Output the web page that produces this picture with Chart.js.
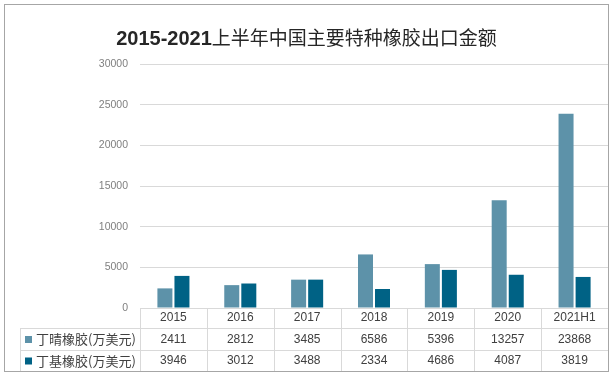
<!DOCTYPE html>
<html>
<head>
<meta charset="utf-8">
<script src="https://cdn.jsdelivr.net/npm/chart.js@4"></script>
<style>
  html, body { margin: 0; padding: 0; background: #fff; }
  #wrap { width: 613px; height: 376px; }
</style>
</head>
<body>
<div id="wrap"><canvas id="myChart"></canvas></div>
<script>
const years = ['2015', '2016', '2017', '2018', '2019', '2020', '2021H1'];
const nbrValues = [2411, 2812, 3485, 6586, 5396, 13257, 23868];
const brValues = [3946, 3012, 3488, 2334, 4686, 4087, 3819];
const seriesNames = ['丁晴橡胶(万美元)', '丁基橡胶(万美元)'];
const seriesColors = ['#5d92a9', '#006285'];

const cjk = '"Liberation Sans", "Noto Sans CJK SC", sans-serif';

// title, outer frame and the data table under the plot
const tablePlugin = {
    id: 'tablePlugin',
    beforeDraw(chart) {
        const c = chart.ctx;
        c.save();
        c.fillStyle = '#fff';
        c.fillRect(0, 0, chart.width, chart.height);
        c.restore();
    },
    afterDraw(chart) {
        const c = chart.ctx;
        const x = chart.scales.x;
        const area = chart.chartArea;
        const step = (area.right - area.left) / years.length;
        const rowTop = area.bottom;
        const rows = [rowTop, 328.5, 350.5, 371];

        c.save();
        // title
        c.fillStyle = '#262626';
        c.textBaseline = 'middle';
        const t1 = '2015-2021';
        const t2 = '上半年中国主要特种橡胶出口金额';
        c.font = 'bold 20px ' + cjk;
        const w1 = c.measureText(t1).width;
        c.font = '19px "Noto Sans CJK SC", sans-serif';
        const w2 = c.measureText(t2).width;
        let tx = chart.width / 2 - (w1 + w2) / 2;
        c.font = 'bold 20px ' + cjk;
        c.textAlign = 'left';
        c.fillText(t1, tx, 39);
        c.font = '19px "Noto Sans CJK SC", sans-serif';
        c.fillText(t2, tx + w1, 38);

        // table lines
        c.strokeStyle = '#d9d9d9';
        c.lineWidth = 1;
        c.beginPath();
        for (let i = 0; i <= years.length; i++) {
            const lx = Math.round(area.left + i * step) + 0.5;
            c.moveTo(lx, rowTop);
            c.lineTo(lx, rows[3]);
        }
        c.moveTo(20.5, rows[1]);
        c.lineTo(20.5, rows[3]);
        c.moveTo(20, rows[1]);
        c.lineTo(area.right, rows[1]);
        c.moveTo(20, rows[2]);
        c.lineTo(area.right, rows[2]);
        c.stroke();

        // header and values
        c.textAlign = 'center';
        c.fillStyle = '#404040';
        c.font = '12px ' + cjk;
        years.forEach((y, i) => {
            const cx = x.getPixelForValue(i);
            c.fillText(y, cx, 318);
            c.fillText(String(nbrValues[i]), cx, 339.5);
            c.fillText(String(brValues[i]), cx, 361);
        });

        // legend keys
        c.textAlign = 'left';
        c.font = '13px "Noto Sans CJK SC", sans-serif';
        [339.5, 361].forEach((ry, k) => {
            c.fillStyle = seriesColors[k];
            c.fillRect(25, ry - 3.5, 7, 7);
            c.fillStyle = '#404040';
            c.fillText(seriesNames[k], 36, ry);
        });

        // outer frame
        c.strokeStyle = '#a6a6a6';
        c.strokeRect(4.5, 4.5, 604, 367);
        c.restore();
    }
};

const ctx = document.getElementById('myChart').getContext('2d');
const myChart = new Chart(ctx, {
    type: 'bar',
    data: {
        labels: years,
        datasets: [{
            label: seriesNames[0],
            data: nbrValues,
            backgroundColor: seriesColors[0],
            categoryPercentage: 0.51,
            barPercentage: 0.88
        }, {
            label: seriesNames[1],
            data: brValues,
            backgroundColor: seriesColors[1],
            categoryPercentage: 0.51,
            barPercentage: 0.88
        }]
    },
    options: {
        responsive: true,
        maintainAspectRatio: false,
        animation: false,
        layout: {
            padding: { left: 0, right: 5, top: 64, bottom: 68 }
        },
        plugins: {
            legend: { display: false },
            title: { display: false },
            tooltip: { enabled: false }
        },
        scales: {
            x: { display: false },
            y: {
                min: 0,
                max: 30000,
                ticks: {
                    stepSize: 5000,
                    padding: 12,
                    color: '#7f7f7f',
                    font: { family: cjk, size: 10.5 },
                    callback: v => String(v)
                },
                grid: { color: '#d9d9d9', drawTicks: false },
                border: { display: false },
                afterFit(scale) {
                    scale.width = 140;
                }
            }
        }
    },
    plugins: [tablePlugin]
});
</script>
</body>
</html>
